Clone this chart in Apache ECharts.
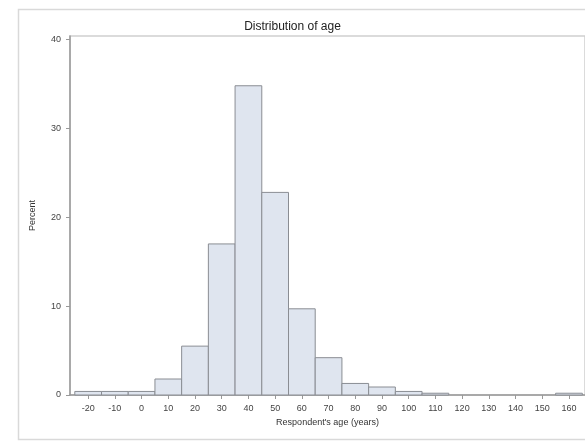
<!DOCTYPE html>
<html><head><meta charset="utf-8">
<script src="https://cdn.jsdelivr.net/npm/echarts@6/dist/echarts.min.js"></script>
<style>html,body{margin:0;padding:0;background:#fff}#c{width:585px;height:442px}</style>
</head><body><div id="c"></div>
<script>
const binCenters = [-20,-10,0,10,20,30,40,50,60,70,80,90,100,110,120,130,140,150,160];
const percents   = [0.4,0.4,0.4,1.8,5.5,17.0,34.8,22.8,9.7,4.2,1.3,0.9,0.4,0.2,0,0,0,0,0.2];
const xTicks = [-20,-10,0,10,20,30,40,50,60,70,80,90,100,110,120,130,140,150,160];
const yTicks = [0,10,20,30,40];
const binWidth = 10;

const chart = echarts.init(document.getElementById('c'), null, {renderer:'canvas'});
const fontFam = '"Liberation Sans", Arial, sans-serif';
chart.setOption({
  animation:false,
  backgroundColor:'#fff',
  graphic:[{type:'rect', left:16, top:7, shape:{width:600, height:430}, style:{fill:'none', stroke:'#d9d9d9', lineWidth:1.5}, silent:true}],
  title:{text:'Distribution of age', left:'center', top:16, textStyle:{fontSize:12, fontWeight:'normal', color:'#222', fontFamily:fontFam}},
  grid:{left:70, right:-2, top:36, bottom:47, show:true, borderColor:'#cfcfcf', borderWidth:1.5},
  xAxis:{type:'value', min:-26.8, max:166,
    name:"Respondent's age (years)", nameLocation:'middle', nameGap:23,
    nameTextStyle:{fontSize:9, color:'#333', fontFamily:fontFam},
    axisLine:{show:true, onZero:false, lineStyle:{color:'#999', width:1.5}},
    axisTick:{show:true, length:4, lineStyle:{color:'#999'}, customValues:xTicks},
    axisLabel:{fontSize:9, color:'#444', margin:9, fontFamily:fontFam, customValues:xTicks},
    splitLine:{show:false}},
  yAxis:{type:'value', min:0, max:40.4,
    name:'Percent', nameLocation:'middle', nameGap:33, nameRotate:90,
    nameTextStyle:{fontSize:9, color:'#333', fontFamily:fontFam},
    axisLine:{show:true, onZero:false, lineStyle:{color:'#999', width:1.5}},
    axisTick:{show:true, length:4, lineStyle:{color:'#999'}, customValues:yTicks},
    axisLabel:{fontSize:9, color:'#444', margin:9, fontFamily:fontFam, customValues:yTicks},
    splitLine:{show:false}},
  series:[{
    type:'custom',
    data: binCenters.map((c,i)=>[c, percents[i]]),
    encode:{x:0, y:1},
    renderItem:function(params, api){
      const c = api.value(0), v = api.value(1);
      if (v <= 0) return null;
      const p0 = api.coord([c - binWidth/2, v]);
      const p1 = api.coord([c + binWidth/2, 0]);
      return {type:'rect', shape:{x:p0[0], y:p0[1], width:p1[0]-p0[0], height:p1[1]-p0[1]},
        style:{fill:'#dfe5ef', stroke:'#8a8d93', lineWidth:1}};
    }
  }]
});
</script></body></html>
